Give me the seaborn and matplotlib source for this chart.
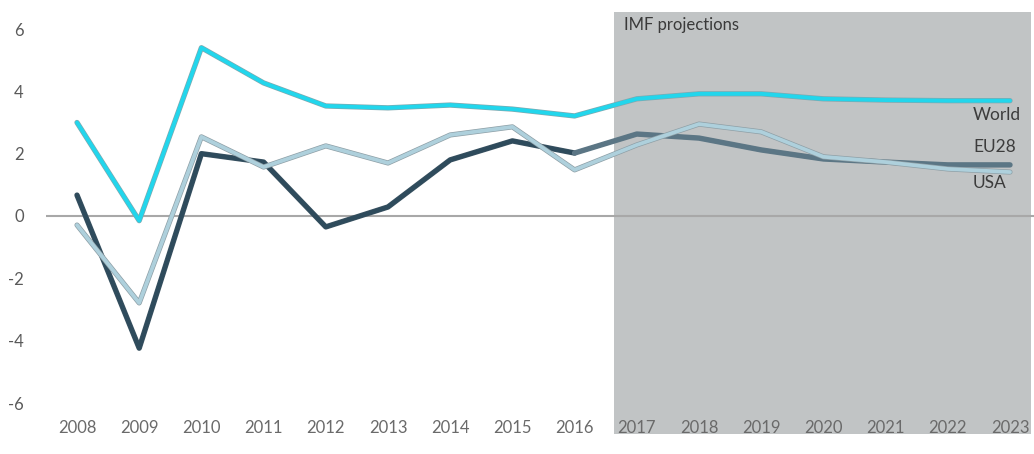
import matplotlib
matplotlib.use("Agg")
import matplotlib.pyplot as plt
import matplotlib.patheffects as pe
import seaborn as sns
import pandas as pd

years = list(range(2008, 2024))
world = [3.0, -0.15, 5.4, 4.27, 3.53, 3.47, 3.56, 3.43, 3.21, 3.76, 3.92, 3.92, 3.76, 3.72, 3.70, 3.70]
eu28 = [0.67, -4.24, 2.0, 1.73, -0.35, 0.29, 1.8, 2.41, 2.02, 2.63, 2.5, 2.12, 1.83, 1.73, 1.64, 1.64]
usa = [-0.29, -2.79, 2.54, 1.57, 2.25, 1.70, 2.6, 2.86, 1.48, 2.28, 2.95, 2.7, 1.9, 1.73, 1.51, 1.41]
last_actual_year = 2016
yticks = [-6, -4, -2, 0, 2, 4, 6]
series_labels = ["World", "EU28", "USA"]
shade_label = "IMF projections"

sns.set_theme(style="white")
plt.rcParams['font.family'] = ['Lato', 'DejaVu Sans']

df = pd.DataFrame({"year": years, "World": world, "EU28": eu28, "USA": usa})
eu_hist = df[df.year <= last_actual_year]
eu_proj = df[df.year >= last_actual_year]

fig = plt.figure(figsize=(10.34, 4.54), dpi=100)
W, H = 1034, 454
left_px, right_px, top_px, bot_px = 46, 1034, 5, 414
ax = fig.add_axes([left_px / W, 1 - bot_px / H, (right_px - left_px) / W, (bot_px - top_px) / H])

px_per_year = (1010 - 77) / 15.0
px_per_unit = (403 - 29) / 12.0
zero_px = 216
ax.set_xlim(2008 - (77 - left_px) / px_per_year, 2023 + (right_px - 1010) / px_per_year)
ax.set_ylim(-(bot_px - zero_px) / px_per_unit, (zero_px - top_px) / px_per_unit)

# projection shading
x0 = 2008 + (614 - 77) / px_per_year
x1 = 2008 + (1031 - 77) / px_per_year
ytop = (zero_px - 12) / px_per_unit
ybot = -(434 - zero_px) / px_per_unit
ax.add_patch(plt.Rectangle((x0, ybot), x1 - x0, ytop - ybot, facecolor="#c1c4c5",
                           edgecolor="none", zorder=0, clip_on=False))

ax.axhline(0, color="#a8a8a8", lw=1.5, zorder=1)

outline = lambda lw, c: [pe.Stroke(linewidth=lw + 1.0, foreground=c), pe.Normal()]

sns.lineplot(data=eu_hist, x="year", y="EU28", ax=ax, color="#2e4b5c", lw=2.9,
             zorder=2, path_effects=outline(2.9, "#3a5261"))
sns.lineplot(data=eu_proj, x="year", y="EU28", ax=ax, color="#5b7685", lw=2.9,
             zorder=2, path_effects=outline(2.9, "#5f7886"))
sns.lineplot(data=df, x="year", y="USA", ax=ax, color="#aed0dc", lw=2.7,
             zorder=3, path_effects=outline(2.7, "#8e9fa6"))
sns.lineplot(data=df, x="year", y="World", ax=ax, color="#22d6ec", lw=2.8,
             zorder=4, path_effects=outline(2.8, "#7fa9b0"))

for s in ax.spines.values():
    s.set_visible(False)
ax.set_xlabel("")
ax.set_ylabel("")
ax.set_xticks(years)
ax.set_xticklabels([str(y) for y in years], fontsize=12, color="#6a6a6a")
ax.set_yticks(yticks)
ax.set_yticklabels([str(v) for v in yticks], fontsize=12, color="#5a5a5a")
ax.tick_params(axis="x", length=0, pad=4)
ax.tick_params(axis="y", length=0, pad=16)
ax.grid(False)

lab_x = 2023 + (973 - 1010) / px_per_year
for name, ypx in zip(series_labels, [115, 147, 183]):
    ax.text(lab_x, (zero_px - ypx) / px_per_unit, name, fontsize=12.5, color="#3c3c3c",
            ha="left", va="center", zorder=5)
ax.text(2008 + (624 - 77) / px_per_year, (zero_px - 25) / px_per_unit, shade_label,
        fontsize=12, color="#3a3a3a", ha="left", va="center", zorder=5)

fig.savefig("out.png", dpi=100)
